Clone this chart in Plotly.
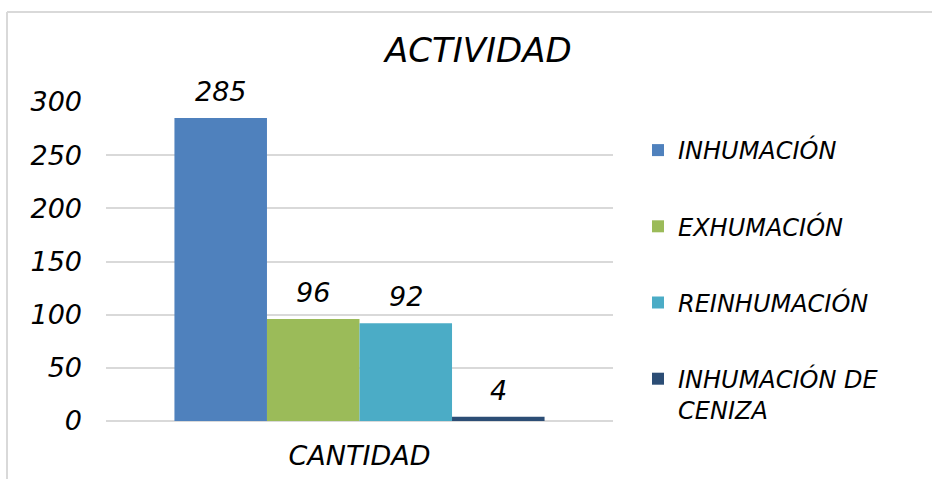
import plotly.graph_objects as go

# data
categories = ["CANTIDAD"]
series_names = ["INHUMACIÓN", "EXHUMACIÓN", "REINHUMACIÓN", "INHUMACIÓN DE<br>CENIZA"]
series_values = [[285], [96], [92], [4]]
colors = ["#4F81BD", "#9BBB59", "#4BACC6", "#2C4D75"]

W, H = 932, 479
ML, MR, MT, MB = 106, 319, 102, 58
PW = W - ML - MR
PH = H - MT - MB

FONT = "DejaVu Sans"
BARGAP = 0.27

def px_x(sx):
    return (sx - ML) / PW

def px_y(sy):
    return (H - MB - sy) / PH

fig = go.Figure()
for i, (name, vals) in enumerate(zip(series_names, series_values)):
    fig.add_trace(go.Bar(
        x=categories,
        y=vals,
        name=name,
        marker=dict(color=colors[i], line=dict(width=0)),
        legendgroup=str(i),
    ))

# value labels above each bar
n = len(series_names)
slot = (1 - BARGAP) / n
annotations = []
for i, vals in enumerate(series_values):
    for j, v in enumerate(vals):
        annotations.append(dict(
            x=j - (1 - BARGAP) / 2 + slot * (i + 0.5), y=v,
            xref="x", yref="y", text=str(v),
            showarrow=False, xanchor="center", yanchor="bottom", yshift=9,
            font=dict(family=FONT, size=27, color="black", style="italic"),
        ))

annotations.append(dict(
    text="ACTIVIDAD", xref="paper", yref="paper",
    x=px_x(477), y=px_y(50), xanchor="center", yanchor="middle",
    showarrow=False,
    font=dict(family=FONT, size=34, color="black", style="italic"),
))

# chart frame: only the top and left edges fall inside the picture
frame = dict(color="#D9D9D9", width=2)
shapes = [
    dict(type="line", xref="paper", yref="paper", x0=px_x(7), x1=px_x(940),
         y0=px_y(12), y1=px_y(12), line=frame, layer="below"),
    dict(type="line", xref="paper", yref="paper", x0=px_x(7), x1=px_x(7),
         y0=px_y(12), y1=px_y(490), line=frame, layer="below"),
]

fig.update_layout(
    width=W, height=H,
    margin=dict(l=ML, r=MR, t=MT, b=MB),
    paper_bgcolor="white",
    plot_bgcolor="white",
    barmode="group",
    bargap=BARGAP,
    bargroupgap=0,
    font=dict(family=FONT, color="black", style="italic"),
    showlegend=True,
    legend=dict(
        x=px_x(638), y=px_y(128), xanchor="left", yanchor="top",
        font=dict(family=FONT, size=24, color="black", style="italic"),
        tracegroupgap=42,
        itemwidth=30,
        valign="top",
        bgcolor="rgba(0,0,0,0)",
    ),
    annotations=annotations,
    shapes=shapes,
)

fig.update_yaxes(
    range=[0, 300], dtick=50, automargin=False,
    showgrid=True, gridcolor="#D9D9D9", gridwidth=2,
    zeroline=True, zerolinecolor="#D9D9D9", zerolinewidth=2,
    showline=False, ticks="",
    tickfont=dict(family=FONT, size=27, color="black", style="italic"),
    ticklabelstandoff=23,
)
fig.update_xaxes(
    automargin=False,
    showgrid=False, showline=False, ticks="",
    tickfont=dict(family=FONT, size=27, color="black", style="italic"),
    ticklabelstandoff=16,
)

# drop the browser's default body margin so the figure fills the window
fig.write_html(
    "out.html",
    config={"displayModeBar": False},
    post_script="document.body.style.margin='0';document.body.style.overflow='hidden';",
)
